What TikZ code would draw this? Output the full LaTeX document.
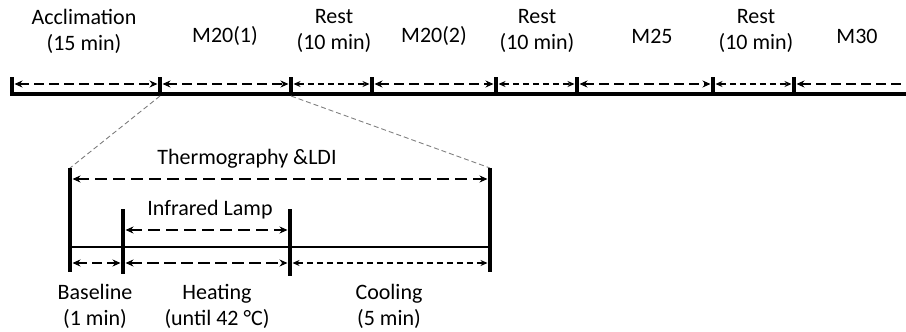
\documentclass[tikz,border=0pt]{standalone}
\usepackage{fontspec}
\setmainfont{Carlito}
\usetikzlibrary{arrows.meta}
\begin{document}
\begin{tikzpicture}[x=1pt,y=1pt,
  lbl/.style={font=\fontsize{22}{26}\selectfont,align=center,inner sep=0pt},
  axis/.style={line width=3.2pt},
  tick/.style={line width=3.2pt},
  span/.style={line width=2.4pt,dash pattern=on 10pt off 5pt,{Stealth[length=8pt,width=7pt]}-{Stealth[length=8pt,width=7pt]},shorten <=2.5pt,shorten >=2.5pt},
  spanthin/.style={line width=1.8pt,dash pattern=on 6pt off 4pt,{Stealth[length=7pt,width=6pt]}-{Stealth[length=7pt,width=6pt]},shorten <=2.5pt,shorten >=2.5pt},
  zoomline/.style={gray,line width=0.9pt,dash pattern=on 5pt off 3pt}]
\useasboundingbox (0,0) rectangle (906,-332);
% top timeline
\foreach \n/\x in {0/12,1/160,2/291,3/372,4/496,5/577,6/713,7/794}{
  \coordinate (b\n) at (\x,-94);
  \coordinate (t\n) at (\x,-77);
  \coordinate (a\n) at (\x,-84);
}
\coordinate (bend) at (906,-94);
\coordinate (aend) at (910,-84);
\draw[axis] (b0) -- (bend);
\foreach \n in {0,...,7}{\draw[tick] (t\n) -- ([yshift=-1.6pt]b\n);}
\draw[span] (a0) -- (a1);
\draw[span] (a1) -- (a2);
\draw[spanthin] (a2) -- (a3);
\draw[span] (a3) -- (a4);
\draw[spanthin] (a4) -- (a5);
\draw[span] (a5) -- (a6);
\draw[spanthin] (a6) -- (a7);
\draw[line width=2.4pt,dash pattern=on 10pt off 5pt,{Stealth[length=8pt,width=7pt]}-,shorten <=2.5pt] (a7) -- (aend);
\node[lbl] (acc) at (84,-31) {Acclimation\\(15 min)};
\node[lbl] (m201) at (225,-36) {M20(1)};
\node[lbl] (r1) at (334,-31) {Rest\\(10 min)};
\node[lbl] (m202) at (434,-36) {M20(2)};
\node[lbl] (r2) at (537,-31) {Rest\\(10 min)};
\node[lbl] (m25) at (652,-36) {M25};
\node[lbl] (r3) at (756,-31) {Rest\\(10 min)};
\node[lbl] (m30) at (857,-36) {M30};
% zoom lines
\coordinate (z0) at (70,-168);
\coordinate (z1) at (490,-168);
\draw[zoomline] ([yshift=-2pt]b1) -- (z0);
\draw[zoomline] ([yshift=-2pt]b2) -- (z1);
% detail timeline
\coordinate (d0) at (70,-247);
\coordinate (d1) at (123,-247);
\coordinate (d2) at (290,-247);
\coordinate (d3) at (490,-247);
\draw[line width=2.6pt] (d0) -- (d3);
\draw[tick] (z0) -- (70,-272);
\draw[tick] (z1) -- (490,-272);
\coordinate (l1) at (123,-209);
\coordinate (l2) at (290,-209);
\draw[tick] (l1) -- (123,-274);
\draw[tick] (l2) -- (290,-276);
\coordinate (th0) at (70,-179);
\coordinate (th1) at (490,-179);
\draw[span,dash pattern=on 12pt off 6pt] (th0) -- (th1);
\coordinate (ir0) at (123,-230);
\coordinate (ir1) at (290,-230);
\draw[span,dash pattern=on 12pt off 6pt] (ir0) -- (ir1);
\coordinate (c0) at (70,-263);
\coordinate (c1) at (123,-263);
\coordinate (c2) at (290,-263);
\coordinate (c3) at (490,-263);
\draw[span] (c0) -- (c1);
\draw[span,dash pattern=on 12pt off 5pt] (c1) -- (c2);
\draw[spanthin] (c2) -- (c3);
\node[lbl] (thermo) at (247,-159) {Thermography \&LDI};
\node[lbl] (ir) at (210,-210) {Infrared Lamp};
\node[lbl] (base) at (95,-306) {Baseline\\(1 min)};
\node[lbl] (heat) at (217,-306) {Heating\\(until 42 °C)};
\node[lbl] (cool) at (389,-306) {Cooling\\(5 min)};
\end{tikzpicture}
\end{document}
